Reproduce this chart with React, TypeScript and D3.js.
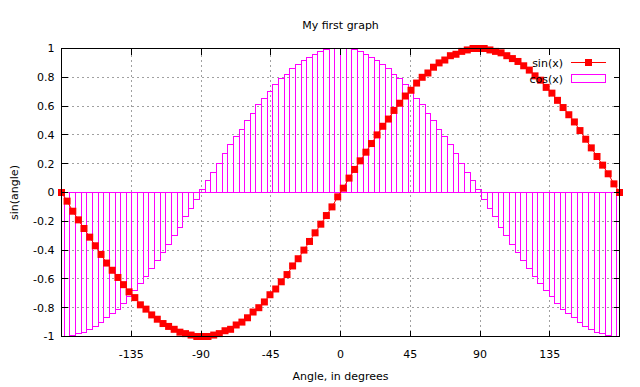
import React from 'react'
import * as d3 from 'd3'

// sampled angles (degrees), 100 samples across the x range
const angles = [
  -180.0, -176.4, -172.7, -169.1, -165.5, -161.8, -158.2, -154.5, -150.9, -147.3,
  -143.6, -140.0, -136.4, -132.7, -129.1, -125.5, -121.8, -118.2, -114.5, -110.9,
  -107.3, -103.6, -100.0, -96.4, -92.7, -89.1, -85.5, -81.8, -78.2, -74.5,
  -70.9, -67.3, -63.6, -60.0, -56.4, -52.7, -49.1, -45.5, -41.8, -38.2,
  -34.5, -30.9, -27.3, -23.6, -20.0, -16.4, -12.7, -9.1, -5.5, -1.8,
  1.8, 5.5, 9.1, 12.7, 16.4, 20.0, 23.6, 27.3, 30.9, 34.5,
  38.2, 41.8, 45.5, 49.1, 52.7, 56.4, 60.0, 63.6, 67.3, 70.9,
  74.5, 78.2, 81.8, 85.5, 89.1, 92.7, 96.4, 100.0, 103.6, 107.3,
  110.9, 114.5, 118.2, 121.8, 125.5, 129.1, 132.7, 136.4, 140.0, 143.6,
  147.3, 150.9, 154.5, 158.2, 161.8, 165.5, 169.1, 172.7, 176.4, 180.0,
]

const sinValues = [
  0, -0.06, -0.13, -0.19, -0.25, -0.31, -0.37, -0.43, -0.49, -0.54,
  -0.59, -0.64, -0.69, -0.73, -0.78, -0.81, -0.85, -0.88, -0.91, -0.93,
  -0.95, -0.97, -0.98, -0.99, -1.0, -1.0, -1.0, -0.99, -0.98, -0.96,
  -0.95, -0.92, -0.9, -0.87, -0.83, -0.8, -0.76, -0.71, -0.67, -0.62,
  -0.57, -0.51, -0.46, -0.4, -0.34, -0.28, -0.22, -0.16, -0.1, -0.03,
  0.03, 0.1, 0.16, 0.22, 0.28, 0.34, 0.4, 0.46, 0.51, 0.57,
  0.62, 0.67, 0.71, 0.76, 0.8, 0.83, 0.87, 0.9, 0.92, 0.95,
  0.96, 0.98, 0.99, 1.0, 1.0, 1.0, 0.99, 0.98, 0.97, 0.95,
  0.93, 0.91, 0.88, 0.85, 0.81, 0.78, 0.73, 0.69, 0.64, 0.59,
  0.54, 0.49, 0.43, 0.37, 0.31, 0.25, 0.19, 0.13, 0.06, 0,
]

const cosValues = [
  -1, -1.0, -0.99, -0.98, -0.97, -0.95, -0.93, -0.9, -0.87, -0.84,
  -0.81, -0.77, -0.72, -0.68, -0.63, -0.58, -0.53, -0.47, -0.42, -0.36,
  -0.3, -0.24, -0.17, -0.11, -0.05, 0.02, 0.08, 0.14, 0.2, 0.27,
  0.33, 0.39, 0.44, 0.5, 0.55, 0.61, 0.65, 0.7, 0.75, 0.79,
  0.82, 0.86, 0.89, 0.92, 0.94, 0.96, 0.98, 0.99, 1.0, 1.0,
  1.0, 1.0, 0.99, 0.98, 0.96, 0.94, 0.92, 0.89, 0.86, 0.82,
  0.79, 0.75, 0.7, 0.65, 0.61, 0.55, 0.5, 0.44, 0.39, 0.33,
  0.27, 0.2, 0.14, 0.08, 0.02, -0.05, -0.11, -0.17, -0.24, -0.3,
  -0.36, -0.42, -0.47, -0.53, -0.58, -0.63, -0.68, -0.72, -0.77, -0.81,
  -0.84, -0.87, -0.9, -0.93, -0.95, -0.97, -0.98, -0.99, -1.0, -1,
]

const xTickValues = [-135, -90, -45, 0, 45, 90, 135]
const yTickValues = [-1, -0.8, -0.6, -0.4, -0.2, 0, 0.2, 0.4, 0.6, 0.8, 1]
const yTickLabels = ['-1', '-0.8', '-0.6', '-0.4', '-0.2', '0', '0.2', '0.4', '0.6', '0.8', '1']
const seriesNames = ['sin(x)', 'cos(x)']

const width = 640
const height = 387
const font = '"DejaVu Sans", Verdana, sans-serif'
const red = '#ff0000'
const magenta = '#ff00ff'

const App = () => {
  const x = d3.scaleLinear().domain([-180, 180]).range([61.5, 619.5])
  const y = d3.scaleLinear().domain([-1, 1]).range([336.5, 48.5])
  const [x0, x1] = x.range()
  const [yb, yt] = y.range()
  const tick = 6

  const sinLine = d3.line<number>()
    .x((_, i) => x(angles[i]))
    .y(d => y(d))(sinValues)

  // boxes touch their neighbours; the two end boxes would leave the range, so they are skipped
  const boxes = cosValues.map((v, i) => {
    if (i === 0 || i === cosValues.length - 1) return null
    const left = Math.floor(x((angles[i - 1] + angles[i]) / 2)) + 0.5
    const right = Math.floor(x((angles[i] + angles[i + 1]) / 2)) + 0.5
    const top = Math.round(y(Math.max(v, 0)) - 0.5) + 0.5
    const bottom = Math.round(y(Math.min(v, 0)) - 0.5) + 0.5
    return { left, right, top, bottom, i }
  }).filter(Boolean) as { left: number, right: number, top: number, bottom: number, i: number }[]

  return (
    <svg width={width} height={height} style={{ position: 'absolute', left: 0, top: 0, background: '#fff' }}
      fontFamily={font} fontSize={11}>
      <rect width={width} height={height} fill="#fff" />

      {/* grid */}
      <g stroke="#a0a0a0" strokeDasharray="2,3" shapeRendering="crispEdges">
        {xTickValues.map(v => (
          <line key={'gx' + v} x1={x(v)} x2={x(v)} y1={yb} y2={yt} />
        ))}
        {yTickValues.slice(1, -1).map(v => (
          <line key={'gy' + v} x1={x0} x2={x1} y1={y(v)} y2={y(v)} />
        ))}
      </g>

      {/* key area hides the grid */}
      <rect x={521} y={yt} width={x1 - 521} height={86 - yt} fill="#fff" />

      {/* cos(x) boxes */}
      <g fill="none" stroke={magenta} strokeWidth={1} shapeRendering="crispEdges">
        {boxes.map(b => (
          <rect key={'b' + b.i} x={b.left} y={b.top} width={b.right - b.left} height={b.bottom - b.top} />
        ))}
      </g>

      {/* sin(x) lines and points */}
      <path d={sinLine ?? ''} fill="none" stroke={red} strokeWidth={1} />
      {sinValues.map((v, i) => (
        <rect key={'p' + i} x={x(angles[i]) - 3.5} y={y(v) - 3.5} width={7} height={7} fill={red} />
      ))}

      {/* border and ticks */}
      <g stroke="#000" strokeWidth={1} shapeRendering="crispEdges" fill="none">
        <rect x={x0} y={yt} width={x1 - x0} height={yb - yt} />
        {xTickValues.map(v => (
          <g key={'tx' + v}>
            <line x1={x(v)} x2={x(v)} y1={yb} y2={yb - tick} />
            <line x1={x(v)} x2={x(v)} y1={yt} y2={yt + tick} />
          </g>
        ))}
        {yTickValues.map(v => (
          <g key={'ty' + v}>
            <line x1={x0} x2={x0 + tick} y1={y(v)} y2={y(v)} />
            <line x1={x1} x2={x1 - tick} y1={y(v)} y2={y(v)} />
          </g>
        ))}
      </g>

      {/* tick labels */}
      <g fill="#000">
        {xTickValues.map(v => (
          <text key={'lx' + v} x={x(v)} y={357.5} textAnchor="middle">{v}</text>
        ))}
        {yTickValues.map((v, i) => (
          <text key={'ly' + v} x={54.5} y={y(v)} dy="0.36em" textAnchor="end">{yTickLabels[i]}</text>
        ))}
      </g>

      {/* titles */}
      <text x={340.5} y={29} textAnchor="middle" fill="#000">My first graph</text>
      <text x={340.5} y={380} textAnchor="middle" fill="#000">Angle, in degrees</text>
      <text transform={`translate(18,${(yb + yt) / 2}) rotate(-90)`} textAnchor="middle" fill="#000">sin(angle)</text>

      {/* legend */}
      <g>
        <text x={563} y={66.5} textAnchor="end" fill="#000">{seriesNames[0]}</text>
        <line x1={571} x2={606} y1={62.5} y2={62.5} stroke={red} strokeWidth={1} />
        <rect x={588.5 - 3.5} y={62.5 - 3.5} width={7} height={7} fill={red} />
        <text x={563} y={82.5} textAnchor="end" fill="#000">{seriesNames[1]}</text>
        <rect x={571.5} y={74.5} width={34} height={8} fill="none" stroke={magenta} strokeWidth={1} shapeRendering="crispEdges" />
      </g>
    </svg>
  )
}

export default App
